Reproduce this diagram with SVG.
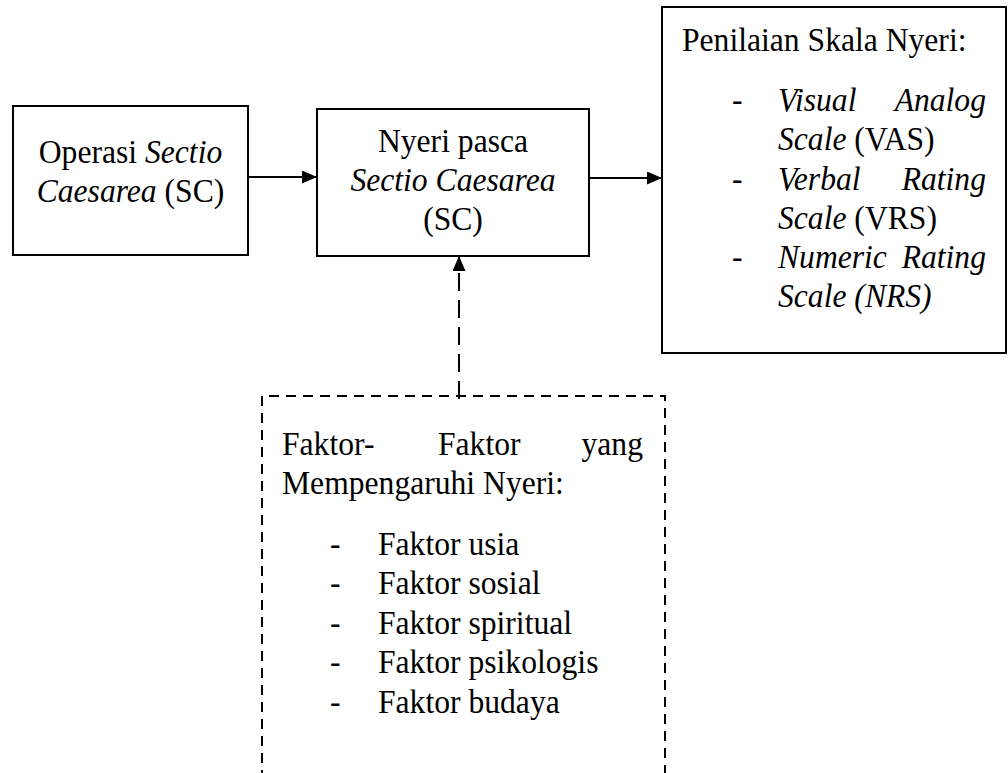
<svg xmlns="http://www.w3.org/2000/svg" width="1008" height="773" viewBox="0 0 1008 773">
<style>
text{font-family:"Liberation Serif","Times New Roman",serif;font-size:34px;fill:#000}
.i{font-style:italic}
.c{text-anchor:middle}
.e{text-anchor:end}
.box{fill:#fff;stroke:#000;stroke-width:2}
.dbox{fill:none;stroke:#000;stroke-width:2;stroke-dasharray:10 7}
.ln{stroke:#000;stroke-width:2;fill:none}
.dln{stroke:#000;stroke-width:2;fill:none;stroke-dasharray:18 9}
</style>
<defs>
<marker id="ah" viewBox="0 0 15 13" refX="15" refY="6.5" markerWidth="15" markerHeight="13" markerUnits="userSpaceOnUse" orient="auto">
<path d="M0,0 L15,6.5 L0,13 Z" fill="#000"/>
</marker>
</defs>
<rect width="1008" height="773" fill="#fff"/>
<g id="n1">
<rect class="box" x="13" y="106" width="235" height="149"/>
<g transform="scale(0.93,1)">
<text class="c" x="140.32" y="163">Operasi <tspan class="i">Sectio</tspan></text>
<text class="c" x="140.32" y="202"><tspan class="i">Caesarea</tspan> (SC)</text>
</g>
</g>
<g id="n2">
<rect class="box" x="317" y="109" width="272" height="147"/>
<g transform="scale(0.93,1)">
<text class="c" x="487.1" y="152">Nyeri pasca</text>
<text class="c i" x="487.1" y="191">Sectio Caesarea</text>
<text class="c" x="487.1" y="230">(SC)</text>
</g>
</g>
<g id="n3">
<rect class="box" x="662" y="7" width="344" height="346"/>
<g transform="scale(0.93,1)">
<text x="733.33" y="51">Penilaian Skala Nyeri:</text>
<text x="787.1" y="111">-</text>
<text class="i" x="836.56" y="111">Visual</text>
<text class="i e" x="1060.22" y="111">Analog</text>
<text x="836.56" y="150"><tspan class="i">Scale</tspan> (VAS)</text>
<text x="787.1" y="190">-</text>
<text class="i" x="836.56" y="190">Verbal</text>
<text class="i e" x="1060.22" y="190">Rating</text>
<text x="836.56" y="229"><tspan class="i">Scale</tspan> (VRS)</text>
<text x="787.1" y="268">-</text>
<text class="i" x="836.56" y="268">Numeric</text>
<text class="i e" x="1060.22" y="268">Rating</text>
<text class="i" x="836.56" y="307">Scale (NRS)</text>
</g>
</g>
<g id="n4">
<path class="dbox" d="M262,780 V396 H665 V780"/>
<g transform="scale(0.93,1)">
<text x="303.23" y="455">Faktor-</text>
<text x="470.97" y="455">Faktor</text>
<text class="e" x="691.4" y="455">yang</text>
<text x="303.23" y="494">Mempengaruhi Nyeri:</text>
<text x="354.84" y="555">-</text><text x="406.45" y="555">Faktor usia</text>
<text x="354.84" y="594">-</text><text x="406.45" y="594">Faktor sosial</text>
<text x="354.84" y="634">-</text><text x="406.45" y="634">Faktor spiritual</text>
<text x="354.84" y="673">-</text><text x="406.45" y="673">Faktor psikologis</text>
<text x="354.84" y="713">-</text><text x="406.45" y="713">Faktor budaya</text>
</g>
</g>
<g id="connectors">
<line class="ln" x1="248" y1="177" x2="317" y2="177" marker-end="url(#ah)"/>
<line class="ln" x1="589" y1="178" x2="662" y2="178" marker-end="url(#ah)"/>
<line class="dln" x1="459" y1="399" x2="459" y2="256" marker-end="url(#ah)"/>
</g>
</svg>
